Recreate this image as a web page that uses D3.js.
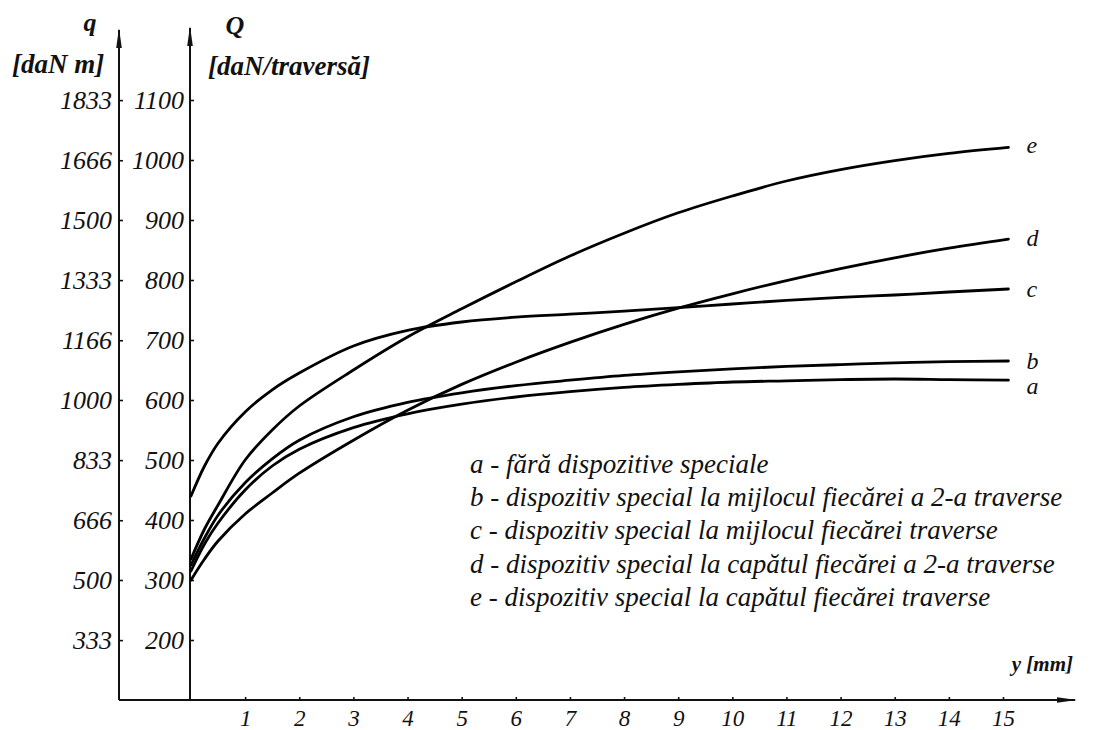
<!DOCTYPE html>
<html>
<head>
<meta charset="utf-8">
<script src="https://cdn.jsdelivr.net/npm/d3@7"></script>
<style>
  html, body { margin: 0; padding: 0; background: #fff; }
  svg { display: block; }
  text { font-family: "Liberation Serif", "DejaVu Serif", serif; font-style: italic; fill: #111; }
</style>
</head>
<body>
<svg id="chart" width="1101" height="730"></svg>
<script>
// Deflection y [mm] at which the curves are read
const yMm = [0, 0.25, 0.5, 1, 1.5, 2, 3, 4, 5, 6, 7, 8, 9, 10, 11, 12, 13, 14, 15.1];

// Q [daN/traversă] for each arrangement
const serA = [315, 360, 395, 450, 490, 518, 554, 577, 593, 605, 614, 621, 626, 630, 632, 634, 635, 634, 633];
const serB = [325, 370, 408, 462, 502, 533, 572, 596, 612, 624, 633, 641, 647, 652, 656, 659, 662, 664, 665];
const serC = [440, 490, 528, 580, 617, 645, 690, 716, 730, 738, 743, 748, 754, 760, 766, 771, 775, 780, 785];
const serD = [300, 335, 365, 410, 445, 478, 533, 583, 626, 663, 696, 726, 753, 777, 799, 819, 837, 853, 868];
const serE = [335, 385, 425, 500, 550, 590, 650, 705, 752, 797, 840, 878, 912, 940, 965, 984, 999, 1011, 1021];

const seriesKeys = ["a", "b", "c", "d", "e"];
const seriesVals = [serA, serB, serC, serD, serE];
// vertical nudge of each end letter below its curve end
const keyDy = [14, 8, 8, 7, 6];

// Axis ticks
const xTicks = [1, 2, 3, 4, 5, 6, 7, 8, 9, 10, 11, 12, 13, 14, 15];
const QTicks = [200, 300, 400, 500, 600, 700, 800, 900, 1000, 1100];
const qTicks = [333, 500, 666, 833, 1000, 1166, 1333, 1500, 1666, 1833];

const legendLines = [
  "a - fără dispozitive speciale",
  "b - dispozitiv special la mijlocul fiecărei a 2-a traverse",
  "c - dispozitiv special la mijlocul fiecărei traverse",
  "d - dispozitiv special la capătul fiecărei a 2-a traverse",
  "e - dispozitiv special la capătul fiecărei traverse"
];

const serif = "'Liberation Serif', 'DejaVu Serif', serif";

const svg = d3.select("#chart");
svg.append("rect").attr("width", 1101).attr("height", 730).attr("fill", "#fff");

const xAxisY = 700;
const QAxisX = 190;
const qAxisX = 119;

const x = d3.scaleLinear().domain([0, 15]).range([191, 1003]);
const yQ = d3.scaleLinear().domain([100, 1100]).range([xAxisY, 100]);
const yq = d3.scaleLinear().domain([100 * 5 / 3, 1100 * 5 / 3]).range([xAxisY, 100]);

// arrowhead marker
const defs = svg.append("defs");
defs.append("marker")
  .attr("id", "arrow")
  .attr("viewBox", "0 0 20 8")
  .attr("refX", 18).attr("refY", 4)
  .attr("markerWidth", 20).attr("markerHeight", 8)
  .attr("markerUnits", "userSpaceOnUse")
  .attr("orient", "auto")
  .append("path").attr("d", "M0,1.2 L20,4 L0,6.8 Z").attr("fill", "#111");

const axisStyle = size => g => {
  g.select(".domain").remove();
  g.selectAll(".tick line").attr("stroke", "#111").attr("stroke-width", 1.6);
  g.selectAll(".tick text").attr("font-size", size).attr("fill", "#111")
    .attr("font-family", serif).attr("font-style", "italic");
};

// axis lines
svg.append("line").attr("x1", qAxisX).attr("y1", xAxisY).attr("x2", qAxisX).attr("y2", 30)
  .attr("stroke", "#111").attr("stroke-width", 2).attr("marker-end", "url(#arrow)");
svg.append("line").attr("x1", QAxisX).attr("y1", xAxisY).attr("x2", QAxisX).attr("y2", 28)
  .attr("stroke", "#111").attr("stroke-width", 2).attr("marker-end", "url(#arrow)");
svg.append("line").attr("x1", qAxisX).attr("y1", xAxisY).attr("x2", 1075).attr("y2", xAxisY)
  .attr("stroke", "#111").attr("stroke-width", 2).attr("marker-end", "url(#arrow)");

// q axis
svg.append("g").attr("transform", `translate(${qAxisX},0)`)
  .call(d3.axisLeft(yq).tickValues(qTicks).tickFormat(d3.format("d")).tickSize(-4).tickPadding(7))
  .call(axisStyle(26));

// Q axis
svg.append("g").attr("transform", `translate(${QAxisX},0)`)
  .call(d3.axisLeft(yQ).tickValues(QTicks).tickFormat(d3.format("d")).tickSize(-4).tickPadding(6))
  .call(axisStyle(26));

// x axis
svg.append("g").attr("transform", `translate(0,${xAxisY})`)
  .call(d3.axisBottom(x).tickValues(xTicks).tickFormat(d3.format("d")).tickSize(-3).tickPadding(10))
  .call(axisStyle(23))
  .call(g => g.selectAll(".tick text").attr("dy", "0.71em"));

// axis titles
svg.append("text").attr("x", 90).attr("y", 31).attr("text-anchor", "middle")
  .attr("font-size", 26).attr("font-weight", "bold").text("q");
svg.append("text").attr("x", 12).attr("y", 73).attr("font-size", 27).attr("font-weight", "bold").text("[daN m]");
svg.append("text").attr("x", 235).attr("y", 34).attr("text-anchor", "middle")
  .attr("font-size", 26).attr("font-weight", "bold").text("Q");
svg.append("text").attr("x", 208).attr("y", 75).attr("font-size", 27).attr("font-weight", "bold").text("[daN/traversă]");
svg.append("text").attr("x", 1073).attr("y", 671).attr("text-anchor", "end")
  .attr("font-size", 21).attr("font-weight", "bold").text("y [mm]");

// curves
const line = d3.line()
  .x((d, i) => x(yMm[i]))
  .y(d => yQ(d))
  .curve(d3.curveCatmullRom.alpha(0.5));

const curves = svg.append("g");
seriesVals.forEach((vals, k) => {
  curves.append("path")
    .attr("d", line(vals))
    .attr("fill", "none")
    .attr("stroke", "#000")
    .attr("stroke-width", 2.8)
    .attr("stroke-linecap", "round");
  const last = vals.length - 1;
  curves.append("text")
    .attr("x", x(yMm[last]) + 18)
    .attr("y", yQ(vals[last]) + keyDy[k])
    .attr("font-size", 24)
    .text(seriesKeys[k]);
});

// legend
const legend = svg.append("g").attr("transform", "translate(470,473)");
legend.selectAll("text").data(legendLines).join("text")
  .attr("x", 0).attr("y", (d, i) => i * 33.2)
  .attr("font-size", 27)
  .text(d => d);
</script>
</body>
</html>
